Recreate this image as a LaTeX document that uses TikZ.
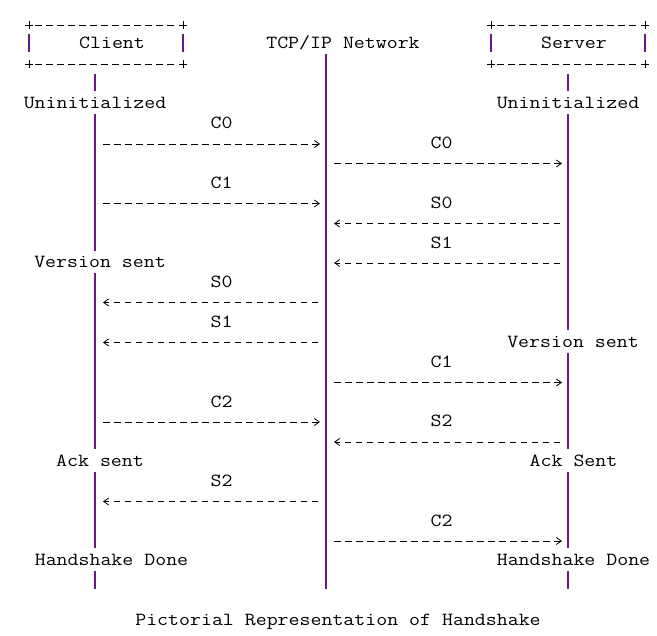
\documentclass[tikz,border=0pt]{standalone}
\usetikzlibrary{arrows.meta}
\definecolor{lanepurple}{RGB}{104,26,130}
\begin{document}
\begin{tikzpicture}[x=1pt,y=-1pt,
  txt/.style={font=\ttfamily\fontsize{18.5}{20}\selectfont,xscale=1.15,inner sep=0pt,text height=11.3pt,text depth=0pt},
  lane/.style={lanepurple,line width=1.6pt},
  frm/.style={black,line width=0.8pt},
  dsh/.style={frm,dash pattern=on 6.5pt off 4.5pt},
  msgr/.style={dsh,-{Straight Barb[length=5pt,width=7pt,line width=0.8pt]},shorten <=8pt,shorten >=6pt},
  msgl/.style={dsh,-{Straight Barb[length=5pt,width=7pt,line width=0.8pt]},shorten <=8pt,shorten >=8pt}]
\useasboundingbox (0,0) rectangle (657,636);
\def\lx{95}
\def\nx{326}
\def\rx{568}
\coordinate (cx) at (\lx,0);
\coordinate (nx) at (\nx,0);
\coordinate (sx) at (\rx,0);
\node[txt] (client) at (112,43) {Client};
\node[txt] (network) at (343,43) {TCP/IP Network};
\node[txt] (server) at (574,43) {Server};
\draw[dsh] (35,25) -- (178,25);
\draw[dsh] (35,64) -- (178,64);
\draw[frm] (29,25) +(-4,0) -- +(4,0) +(0,-4) -- +(0,4);
\draw[frm] (183,25) +(-4,0) -- +(4,0) +(0,-4) -- +(0,4);
\draw[frm] (29,64) +(-4,0) -- +(4,0) +(0,-4) -- +(0,4);
\draw[frm] (183,64) +(-4,0) -- +(4,0) +(0,-4) -- +(0,4);
\draw[lane] (29,34) -- (29,52);
\draw[lane] (183,34) -- (183,52);
\draw[dsh] (497,25) -- (640,25);
\draw[dsh] (497,64) -- (640,64);
\draw[frm] (491,25) +(-4,0) -- +(4,0) +(0,-4) -- +(0,4);
\draw[frm] (645,25) +(-4,0) -- +(4,0) +(0,-4) -- +(0,4);
\draw[frm] (491,64) +(-4,0) -- +(4,0) +(0,-4) -- +(0,4);
\draw[frm] (645,64) +(-4,0) -- +(4,0) +(0,-4) -- +(0,4);
\draw[lane] (491,34) -- (491,52);
\draw[lane] (645,34) -- (645,52);
\draw[lane] (\lx,74) -- (\lx,91);
\draw[lane] (\lx,114) -- (\lx,251);
\draw[lane] (\lx,273) -- (\lx,449);
\draw[lane] (\lx,472) -- (\lx,548);
\draw[lane] (\lx,571) -- (\lx,589);
\draw[lane] (\nx,54) -- (\nx,589);
\draw[lane] (\rx,74) -- (\rx,91);
\draw[lane] (\rx,114) -- (\rx,330);
\draw[lane] (\rx,353) -- (\rx,449);
\draw[lane] (\rx,472) -- (\rx,548);
\draw[lane] (\rx,571) -- (\rx,589);
\node[txt] (cuninit) at (95,103) {Uninitialized};
\node[txt] (suninit) at (568,103) {Uninitialized};
\node[txt] (cversion) at (100,262) {Version sent};
\node[txt] (sversion) at (573,342) {Version sent};
\node[txt] (cack) at (100,461) {Ack sent};
\node[txt] (sack) at (573.5,461) {Ack Sent};
\node[txt] (cdone) at (111.5,560) {Handshake Done};
\node[txt] (sdone) at (573.5,560) {Handshake Done};
\node[txt] (caption) at (338,620) {Pictorial Representation of Handshake};
\node[txt] (lc0) at (221.5,123) {C0};
\node[txt] (lc1) at (221.5,183) {C1};
\node[txt] (ls0) at (221.5,282) {S0};
\node[txt] (ls1) at (221.5,322) {S1};
\node[txt] (lc2) at (221.5,402) {C2};
\node[txt] (ls2) at (221.5,481) {S2};
\node[txt] (rc0) at (441.5,143) {C0};
\node[txt] (rs0) at (441.5,203) {S0};
\node[txt] (rs1) at (441.5,243) {S1};
\node[txt] (rc1) at (441.5,362) {C1};
\node[txt] (rs2) at (441.5,421) {S2};
\node[txt] (rc2) at (441.5,521) {C2};
\coordinate (mc0a) at (0,144);
\coordinate (mc0b) at (0,163.5);
\coordinate (mc1a) at (0,203.5);
\coordinate (ms0a) at (0,223.5);
\coordinate (ms1a) at (0,263);
\coordinate (ms0b) at (0,302.5);
\coordinate (ms1b) at (0,342.5);
\coordinate (mc1b) at (0,382.5);
\coordinate (mc2a) at (0,422);
\coordinate (ms2a) at (0,442);
\coordinate (ms2b) at (0,501.5);
\coordinate (mc2b) at (0,541);
\draw[msgr] (cx |- mc0a) -- (nx |- mc0a);
\draw[msgr] (nx |- mc0b) -- (sx |- mc0b);
\draw[msgr] (cx |- mc1a) -- (nx |- mc1a);
\draw[msgl] (sx |- ms0a) -- (nx |- ms0a);
\draw[msgl] (sx |- ms1a) -- (nx |- ms1a);
\draw[msgl] (nx |- ms0b) -- (cx |- ms0b);
\draw[msgl] (nx |- ms1b) -- (cx |- ms1b);
\draw[msgr] (nx |- mc1b) -- (sx |- mc1b);
\draw[msgr] (cx |- mc2a) -- (nx |- mc2a);
\draw[msgl] (sx |- ms2a) -- (nx |- ms2a);
\draw[msgl] (nx |- ms2b) -- (cx |- ms2b);
\draw[msgr] (nx |- mc2b) -- (sx |- mc2b);
\end{tikzpicture}
\end{document}
